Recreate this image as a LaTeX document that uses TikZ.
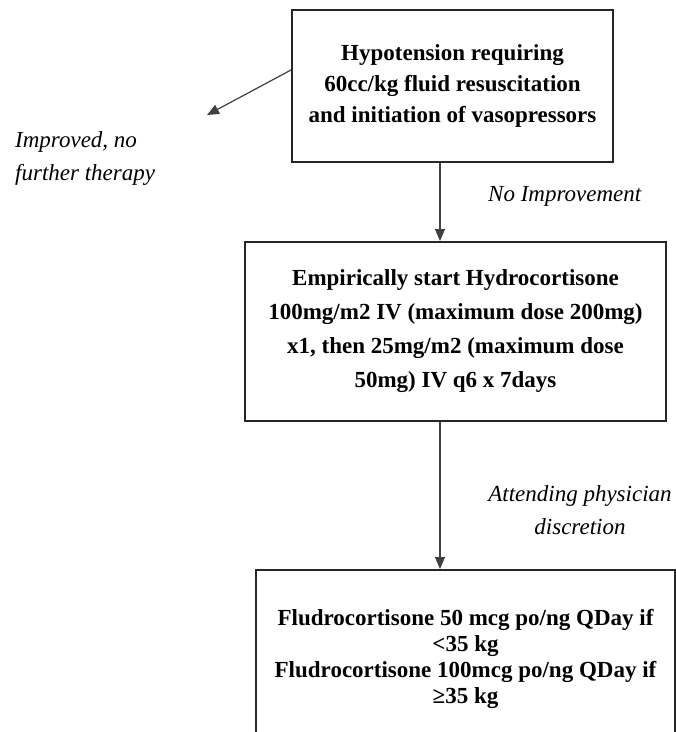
\documentclass[tikz,border=0pt]{standalone}
\usepackage{fontspec}
\setmainfont{Liberation Serif}
\usetikzlibrary{positioning}
\usetikzlibrary{arrows.meta}
\tikzset{
    stepbox/.style = {rectangle, line width=2pt, draw=black!85, align=center, inner sep=0pt, font=\bfseries},
    note/.style = {draw=none, inner sep=0pt, font=\fontsize{23}{33}\selectfont\itshape},
    flow/.style = {-{Triangle[length=12pt,width=10pt]}, line width=1.2pt, draw=black!75, fill=black!75},
}
\begin{document}
\begin{tikzpicture}[x=1pt,y=1pt]
\useasboundingbox (0,0) rectangle (676,-732);
%
\node[stepbox, minimum width=321pt, minimum height=152pt, font=\fontsize{23}{31}\selectfont\bfseries] at (452.5,-86) (hypo) {Hypotension requiring\\60cc/kg fluid resuscitation\\and initiation of vasopressors};
\node[stepbox, minimum width=421pt, minimum height=179pt, font=\fontsize{23}{34}\selectfont\bfseries] at (455.5,-331.5) (hydro) {Empirically start Hydrocortisone\\100mg/m2 IV (maximum dose 200mg)\\x1, then 25mg/m2 (maximum dose\\50mg) IV q6 x 7days};
\node[stepbox, minimum width=419pt, minimum height=178pt, font=\fontsize{23}{26}\selectfont\bfseries] at (465.5,-659) (fludro) {Fludrocortisone 50 mcg po/ng QDay if\\<35 kg\\Fludrocortisone 100mcg po/ng QDay if\\≥35 kg};
%
\node[note, anchor=west] at (488,-196) (noimp) {No Improvement};
\node[note, align=center] at (580,-510) (attend) {Attending physician\\discretion};
\node[note, align=left, anchor=west] at (15,-158.5) (improved) {Improved, no\\further therapy};
%
\coordinate (spine) at (440,0);
\coordinate (better) at (207,-115);
\draw[flow] (hypo.south -| spine) -- (hydro.north -| spine);
\draw[flow] (hydro.south -| spine) -- (fludro.north -| spine);
\draw[flow] ([yshift=16pt]hypo.west) -- (better);
\end{tikzpicture}
\end{document}
